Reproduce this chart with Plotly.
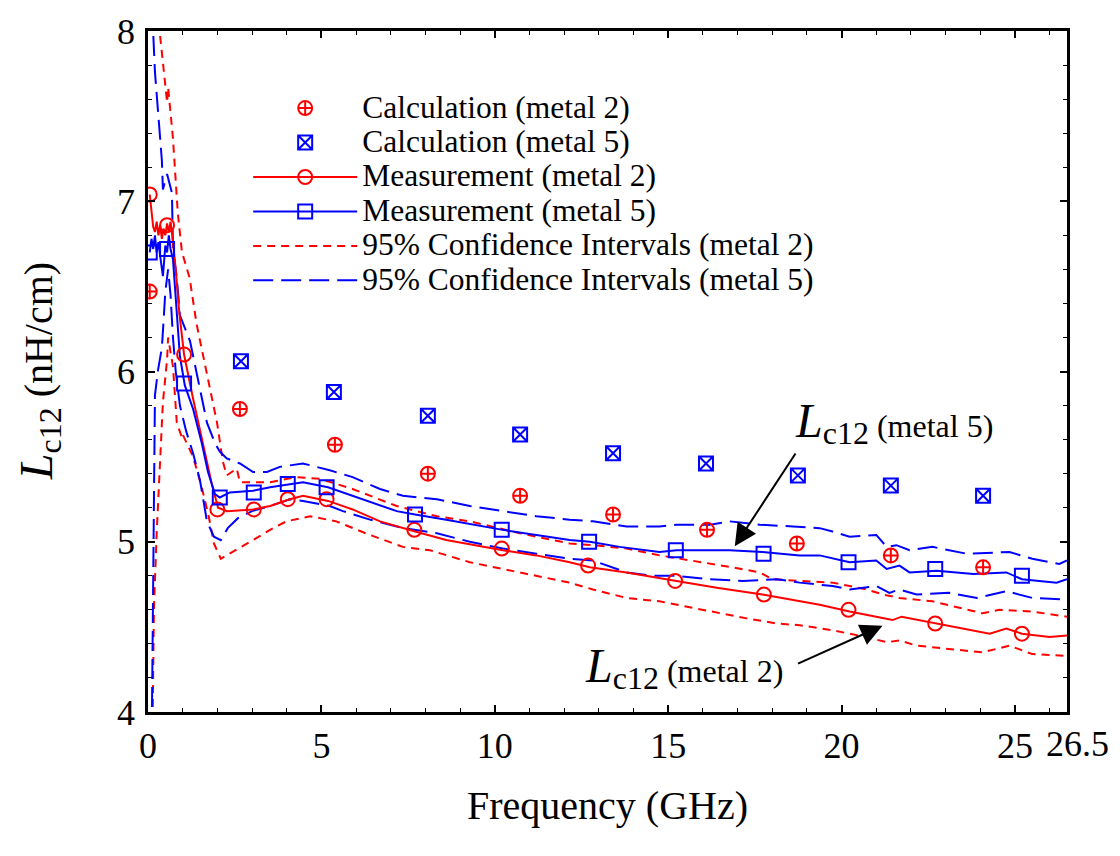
import plotly.graph_objects as go

# ---------------- data ----------------
# Calculation points
calc2_f = [0.05, 2.65, 5.39, 8.07, 10.73, 13.41, 16.12, 18.71, 21.42, 24.08]
calc2_L = [6.47, 5.78, 5.57, 5.40, 5.27, 5.16, 5.07, 4.99, 4.92, 4.85]
calc5_f = [2.68, 5.36, 8.07, 10.73, 13.41, 16.09, 18.74, 21.42, 24.08]
calc5_L = [6.06, 5.88, 5.74, 5.63, 5.52, 5.46, 5.39, 5.33, 5.27]

# Measurement (metal 2) dense line
meas2_f = [0.05, 0.1, 0.15, 0.2, 0.25, 0.3, 0.35, 0.4, 0.45, 0.5, 0.55, 0.6, 0.65, 0.7,
           0.8, 0.9, 1.04, 1.3, 1.58, 1.84, 2.02, 2.28, 3.03, 3.52, 4.09, 4.47, 5.19,
           5.9, 6.69, 7.35, 7.7, 8.6, 10.23, 11.2, 12.16, 12.74, 13.8, 15.24, 16.4,
           17.72, 18.79, 19.37, 20.23, 21.47, 21.73, 22.74, 24.27, 24.75, 25.2, 26.0, 26.5]
meas2_L = [7.04, 6.95, 6.85, 6.82, 6.88, 6.80, 6.86, 6.78, 6.84, 6.80, 6.87, 6.82, 6.88, 6.80,
           6.60, 6.35, 6.10, 5.84, 5.58, 5.34, 5.20, 5.18, 5.19, 5.21, 5.25, 5.27, 5.24,
           5.19, 5.12, 5.08, 5.06, 5.01, 4.95, 4.92, 4.88, 4.85, 4.82, 4.77, 4.73,
           4.69, 4.65, 4.63, 4.59, 4.54, 4.56, 4.52, 4.46, 4.49, 4.46, 4.44, 4.45]
meas2_mk_f = [0.05, 0.55, 1.04, 2.0, 3.05, 4.03, 5.15, 7.68, 10.2, 12.69, 15.2, 17.76, 20.2, 22.7, 25.2]
meas2_mk_L = [7.04, 6.86, 6.10, 5.19, 5.19, 5.25, 5.25, 5.07, 4.96, 4.86, 4.77, 4.69, 4.60, 4.52, 4.46]

# Measurement (metal 5) dense line
meas5_f = [0.05, 0.1, 0.15, 0.2, 0.25, 0.3, 0.35, 0.43, 0.5, 0.55, 0.6, 0.65, 0.72,
           0.92, 1.06, 1.3, 1.55, 1.73, 1.93, 2.07, 2.36, 3.03, 3.52, 4.09, 4.47, 5.19,
           5.9, 6.69, 7.17, 7.7, 8.6, 10.23, 11.2, 12.16, 12.74, 13.6, 14.75, 15.24, 16.0,
           16.77, 17.72, 18.79, 19.37, 20.23, 21.0, 21.3, 21.67, 21.96, 22.74, 23.8, 24.75,
           25.2, 26.2, 26.5]
meas5_L = [6.70, 6.78, 6.72, 6.80, 6.70, 6.76, 6.68, 6.56, 6.74, 6.70, 6.80, 6.72, 6.66,
           6.09, 5.92, 5.78, 5.58, 5.41, 5.28, 5.26, 5.29, 5.30, 5.32, 5.34, 5.35, 5.32,
           5.27, 5.21, 5.18, 5.16, 5.13, 5.07, 5.04, 5.01, 5.00, 4.97, 4.94, 4.95, 4.95,
           4.95, 4.94, 4.92, 4.92, 4.88, 4.89, 4.84, 4.86, 4.82, 4.83, 4.81, 4.82,
           4.78, 4.76, 4.78]
meas5_mk_f = [0.05, 0.55, 1.04, 2.07, 3.05, 4.03, 5.15, 7.7, 10.2, 12.72, 15.22, 17.75, 20.2, 22.7, 25.2]
meas5_mk_L = [6.70, 6.72, 5.93, 5.26, 5.29, 5.34, 5.32, 5.16, 5.07, 5.00, 4.95, 4.93, 4.88, 4.84, 4.80]

# 95% confidence intervals (metal 2)
ci2u_f = [0.28, 0.35, 0.49, 0.55, 0.58, 0.72, 0.78, 0.86, 0.98, 1.2, 1.4, 1.7, 1.99, 2.16,
          2.27, 2.56, 2.65, 3.14, 3.52, 4.29, 4.96, 5.9, 7.17, 8.33, 9.28, 10.72, 12.16,
          12.83, 13.8, 14.75, 15.7, 16.86, 17.64, 18.0, 18.79, 19.74, 20.72, 21.2, 21.67,
          22.62, 24.06, 24.55, 25.5, 26.5]
ci2u_L = [8.3, 7.97, 7.70, 7.58, 7.67, 7.37, 7.18, 6.93, 6.70, 6.55, 6.28, 5.99, 5.70, 5.47,
          5.39, 5.43, 5.35, 5.35, 5.35, 5.38, 5.37, 5.31, 5.21, 5.15, 5.12, 5.05, 4.99,
          4.98, 4.96, 4.92, 4.89, 4.85, 4.82, 4.78, 4.77, 4.76, 4.72, 4.69, 4.67,
          4.65, 4.58, 4.60, 4.59, 4.56]
ci2l_f = [0.12, 0.17, 0.25, 0.35, 0.43, 0.55, 0.58, 0.72, 0.83, 0.98, 1.0, 1.3, 1.55, 1.75,
          1.9, 2.1, 2.45, 3.03, 3.52, 3.99, 4.67, 5.43, 6.4, 7.35, 8.13, 9.28, 10.23, 11.2,
          12.16, 12.83, 13.8, 14.75, 15.5, 16.2, 17.26, 18.13, 18.79, 19.74, 20.72, 21.3,
          21.67, 22.16, 23.1, 24.06, 24.84, 25.5, 26.5]
ci2l_L = [3.7, 4.6, 5.05, 5.45, 5.82, 6.07, 6.20, 6.03, 5.70, 5.61, 5.63, 5.50, 5.32, 5.15,
          4.99, 4.90, 4.94, 5.01, 5.07, 5.12, 5.15, 5.12, 5.04, 4.97, 4.95, 4.88, 4.84, 4.80,
          4.76, 4.72, 4.67, 4.65, 4.62, 4.59, 4.55, 4.52, 4.51, 4.48, 4.44, 4.41,
          4.42, 4.39, 4.37, 4.35, 4.39, 4.34, 4.33]

# 95% confidence intervals (metal 5)
ci5u_f = [0.12, 0.15, 0.2, 0.29, 0.4, 0.43, 0.55, 0.69, 0.72, 0.83, 0.92, 1.21, 1.41, 1.7,
          1.93, 2.07, 2.27, 2.65, 3.03, 3.43, 3.8, 4.09, 4.47, 5.24, 5.9, 6.69, 7.35, 8.33,
          9.28, 10.23, 11.2, 12.16, 12.83, 13.8, 14.75, 15.24, 16.2, 16.77, 17.64, 18.6,
          19.37, 19.74, 20.23, 21.0, 21.3, 21.58, 21.96, 22.62, 23.6, 24.84, 25.5, 26.28, 26.5]
ci5u_L = [8.3, 7.99, 7.76, 7.51, 7.24, 7.07, 7.16, 7.05, 6.72, 6.55, 6.33, 6.18, 5.99, 5.70,
          5.58, 5.53, 5.49, 5.46, 5.41, 5.41, 5.44, 5.45, 5.46, 5.42, 5.38, 5.31, 5.27, 5.25,
          5.21, 5.18, 5.15, 5.13, 5.12, 5.09, 5.09, 5.10, 5.10, 5.12, 5.10, 5.09,
          5.08, 5.06, 5.03, 5.04, 4.97, 4.98, 4.95, 4.97, 4.93, 4.94, 4.90, 4.87, 4.89]
ci5l_f = [0.1, 0.15, 0.2, 0.29, 0.4, 0.45, 0.5, 0.58, 0.65, 0.72, 0.8, 0.92, 1.1, 1.3, 1.5,
          1.7, 1.9, 2.1, 2.3, 2.6, 3.0, 3.52, 4.09, 4.47, 5.24, 5.62, 6.4, 7.35, 8.33, 9.28,
          10.23, 11.2, 12.16, 12.83, 13.8, 14.55, 15.24, 16.2, 17.15, 18.13, 18.79, 19.74,
          20.23, 21.0, 21.38, 21.67, 22.16, 23.1, 23.9, 24.75, 25.5, 26.5]
ci5l_L = [3.7, 5.0, 5.86, 6.01, 6.14, 6.30, 6.47, 6.60, 6.45, 6.20, 6.00, 5.80, 5.65, 5.52, 5.36,
          5.12, 5.03, 5.01, 5.08, 5.14, 5.18, 5.21, 5.25, 5.24, 5.21, 5.18, 5.13, 5.08, 5.05, 5.00,
          4.96, 4.93, 4.90, 4.89, 4.82, 4.80, 4.80, 4.78, 4.77, 4.78, 4.76, 4.74,
          4.72, 4.74, 4.70, 4.72, 4.69, 4.70, 4.67, 4.71, 4.67, 4.66]

x_tickvals = [0, 5, 10, 15, 20, 25, 26.5]
x_ticktext = ["0", "5", "10", "15", "20", "25", ""]
x_end_label = "26.5"
y_tickvals = [4, 5, 6, 7, 8]
y_ticktext = ["4", "5", "6", "7", "8"]

legend_names = ["Calculation (metal 2)", "Calculation (metal 5)",
                "Measurement (metal 2)", "Measurement (metal 5)",
                "95% Confidence Intervals (metal 2)", "95% Confidence Intervals (metal 5)"]

# ---------------- styles ----------------
RED = "#FF0000"
BLUE = "#0000FF"
FONT = "Liberation Serif"
RED_DASH = "8px,6px"
BLUE_DASH = "20px,8px"
LW = 2


def lname(s):
    return "<span style='font-size:31.5px'>" + s + "</span>"


fig = go.Figure()

# CI lines
for fx, fy in [(ci2u_f, ci2u_L), (ci2l_f, ci2l_L)]:
    fig.add_trace(go.Scatter(x=fx, y=fy, mode="lines", showlegend=False,
                             line=dict(color=RED, width=LW, dash=RED_DASH)))
for fx, fy in [(ci5u_f, ci5u_L), (ci5l_f, ci5l_L)]:
    fig.add_trace(go.Scatter(x=fx, y=fy, mode="lines", showlegend=False,
                             line=dict(color=BLUE, width=LW, dash=BLUE_DASH)))

# measurement lines
fig.add_trace(go.Scatter(x=meas2_f, y=meas2_L, mode="lines", showlegend=False,
                         line=dict(color=RED, width=LW)))
fig.add_trace(go.Scatter(x=meas5_f, y=meas5_L, mode="lines", showlegend=False,
                         line=dict(color=BLUE, width=LW)))
fig.add_trace(go.Scatter(x=meas2_mk_f, y=meas2_mk_L, mode="markers", showlegend=False,
                         marker=dict(symbol="circle-open", size=14, color=RED,
                                     line=dict(width=2, color=RED))))
fig.add_trace(go.Scatter(x=meas5_mk_f, y=meas5_mk_L, mode="markers", showlegend=False,
                         marker=dict(symbol="square-open", size=14, color=BLUE,
                                     line=dict(width=2, color=BLUE))))

# calculation points
fig.add_trace(go.Scatter(x=calc2_f, y=calc2_L, mode="markers", name=lname(legend_names[0]),
                         marker=dict(symbol="circle-cross-open", size=14, color=RED,
                                     line=dict(width=2, color=RED))))
fig.add_trace(go.Scatter(x=calc5_f, y=calc5_L, mode="markers", name=lname(legend_names[1]),
                         marker=dict(symbol="square-x-open", size=14, color=BLUE,
                                     line=dict(width=2, color=BLUE))))

# legend-only entries
fig.add_trace(go.Scatter(x=[None], y=[None], mode="lines+markers", name=lname(legend_names[2]),
                         line=dict(color=RED, width=LW),
                         marker=dict(symbol="circle-open", size=14, color=RED,
                                     line=dict(width=2, color=RED))))
fig.add_trace(go.Scatter(x=[None], y=[None], mode="lines+markers", name=lname(legend_names[3]),
                         line=dict(color=BLUE, width=LW),
                         marker=dict(symbol="square-open", size=14, color=BLUE,
                                     line=dict(width=2, color=BLUE))))
fig.add_trace(go.Scatter(x=[None], y=[None], mode="lines", name=lname(legend_names[4]),
                         line=dict(color=RED, width=LW, dash=RED_DASH)))
fig.add_trace(go.Scatter(x=[None], y=[None], mode="lines", name=lname(legend_names[5]),
                         line=dict(color=BLUE, width=LW, dash=BLUE_DASH)))

axis_common = dict(showgrid=False, zeroline=False, showline=True, linecolor="black",
                   linewidth=2.5, mirror="ticks", ticks="inside", tickcolor="black",
                   tickwidth=1.5, ticklen=7, ticklabeloverflow="allow",
                   tickfont=dict(family=FONT, size=36, color="black"))

fig.update_xaxes(range=[0, 26.5], tickvals=x_tickvals, ticktext=x_ticktext, tickangle=0,
                 ticklabelstandoff=0,
                 minor=dict(ticks="inside", dtick=1, ticklen=4, tickcolor="black", tickwidth=1.2),
                 **axis_common)
fig.update_yaxes(range=[4, 8.0005], tickvals=y_tickvals, ticktext=y_ticktext,
                 ticklabelstandoff=3,
                 minor=dict(ticks="inside", dtick=0.2, ticklen=4, tickcolor="black", tickwidth=1.2),
                 **axis_common)

SUBSPAN = "<sub><span style='font-size:32px'>c12</span></sub>"
annotations = [
    dict(xref="x", yref="paper", x=26.5, y=-0.0476, xanchor="center", yanchor="middle",
         xshift=10, text=x_end_label, showarrow=False,
         font=dict(family=FONT, size=36, color="black")),
    dict(xref="paper", yref="paper", x=0.5, y=-0.138, xanchor="center", yanchor="middle",
         text="Frequency (GHz)", showarrow=False,
         font=dict(family=FONT, size=40, color="black")),
    dict(xref="paper", yref="paper", x=-0.119, y=0.50, xanchor="center", yanchor="middle",
         textangle=-90, showarrow=False,
         text="<i><span style='font-size:46px'>L</span></i>" + SUBSPAN + " (nH/cm)",
         font=dict(family=FONT, size=40, color="black")),
    # arrows
    dict(x=16.92, y=4.974, ax=18.7, ay=5.527, xref="x", yref="y", axref="x", ayref="y",
         text="", showarrow=True, arrowhead=2, arrowsize=2.2, arrowwidth=2, arrowcolor="black"),
    dict(x=21.18, y=4.507, ax=18.7, ay=4.28, xref="x", yref="y", axref="x", ayref="y",
         text="", showarrow=True, arrowhead=2, arrowsize=2.2, arrowwidth=2, arrowcolor="black"),
    # labels
    dict(x=18.6, y=5.70, xref="x", yref="y", xanchor="left", yanchor="middle", showarrow=False,
         text="<i><span style='font-size:48px'>L</span></i>" + SUBSPAN + " (metal 5)",
         font=dict(family=FONT, size=32, color="black")),
    dict(x=12.55, y=4.26, xref="x", yref="y", xanchor="left", yanchor="middle", showarrow=False,
         text="<i><span style='font-size:48px'>L</span></i>" + SUBSPAN + " (metal 2)",
         font=dict(family=FONT, size=32, color="black")),
]

fig.update_layout(
    width=1120, height=856,
    margin=dict(l=148, r=53, t=18, b=144),
    plot_bgcolor="white", paper_bgcolor="white",
    font=dict(family=FONT, color="black"),
    annotations=annotations,
    legend=dict(x=0.109, y=0.9195, xanchor="left", yanchor="top",
                bgcolor="rgba(0,0,0,0)", itemwidth=104,
                font=dict(family=FONT, size=24.2, color="black"),
                tracegroupgap=0),
)

# remove the default 8px page margin so the figure sits at the window's top-left corner
fig.write_html("out.html", config={"displayModeBar": False},
               post_script="document.body.style.margin='0';")
